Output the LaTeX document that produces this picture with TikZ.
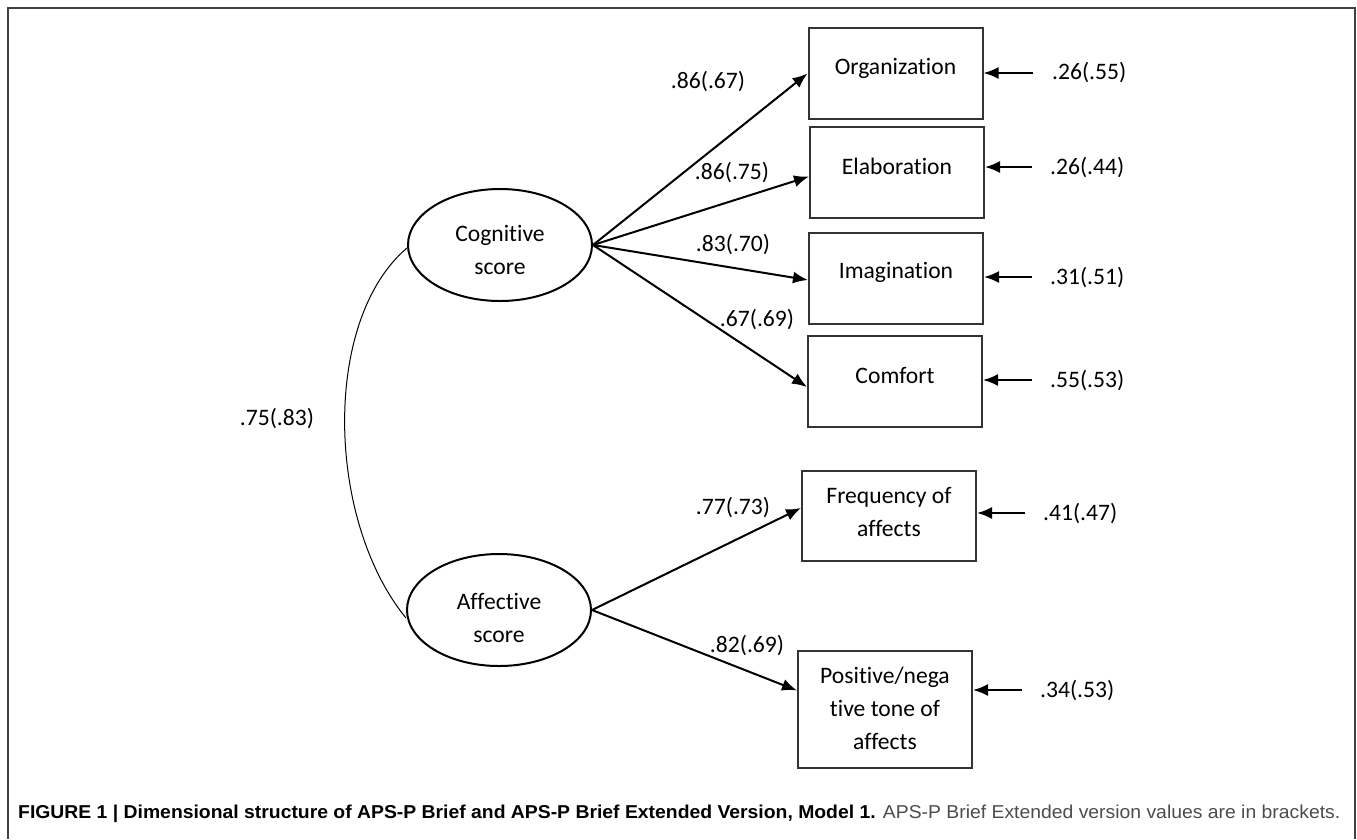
\documentclass[tikz,border=0pt]{standalone}
\usepackage{fontspec}
\setmainfont{Carlito}[Ligatures=NoCommon]
\newfontfamily\capfont{Liberation Sans}
\usetikzlibrary{arrows.meta,shapes.geometric}
\begin{document}
\begin{tikzpicture}[x=1pt,y=-1pt,
  every node/.style={font=\fontsize{23.6}{33}\selectfont, inner sep=0pt},
  latent/.style={ellipse, draw=black, line width=2pt, minimum width=184pt, minimum height=112pt},
  obs/.style={rectangle, draw=black!80, line width=2pt, minimum width=174pt, minimum height=91pt},
  txt/.style={align=center},
  load/.style={line width=2pt, -{Latex[length=15pt,width=12pt]}},
  resid/.style={line width=2pt, -{Latex[length=15pt,width=12pt]}},
  corr/.style={line width=1pt},
  framecol/.style={draw=black!75, line width=1.6pt}
]
\fill[white] (0,0) rectangle (1357,839);
\useasboundingbox (0,0) rectangle (1357,839);
\draw[framecol] (8,839) -- (8,8) -- (1355,8) -- (1355,839);

% latent variables
\node[latent] (cog) at (500,245) {};
\node[txt] (cogT) at ([yshift=-5pt]cog.center) {Cognitive\\score};
\node[latent] (aff) at (499,610) {};
\node[txt] (affT) at ([yshift=-8pt]aff.center) {Affective\\score};

% observed variables
\node[obs] (org) at (895.5,73.5) {};
\node[txt] (orgT) at ([yshift=5.5pt]org.center) {Organization};
\node[obs] (ela) at (897,172.5) {};
\node[txt] (elaT) at ([yshift=6pt]ela.center) {Elaboration};
\node[obs] (ima) at (896,278.5) {};
\node[txt] (imaT) at ([yshift=6pt]ima.center) {Imagination};
\node[obs] (com) at (895,381.5) {};
\node[txt] (comT) at ([yshift=6pt]com.center) {Comfort};
\node[obs, minimum height=90pt] (fre) at (889,516) {};
\node[txt] (freT) at ([yshift=4pt]fre.center) {Frequency of\\affects};
\node[obs, minimum height=117pt] (pos) at (885,709.5) {};
\node[txt] (posT) at ([yshift=1pt]pos.center) {Positive/nega\\tive tone of\\affects};

% loadings
\draw[load] (cog.east) -- (org.west);
\draw[load] (cog.east) -- ([yshift=-4pt]ela.west);
\draw[load] (cog.east) -- ([yshift=-1.5pt]ima.west);
\draw[load] (cog.east) -- ([yshift=-5.5pt]com.west);
\draw[load] (aff.east) -- ([yshift=8pt]fre.west);
\draw[load] (aff.east) -- ([yshift=19pt]pos.west);

\node (l1) at (708,82) {.86(.67)};
\node (l2) at (732,172) {.86(.75)};
\node (l3) at (733,244) {.83(.70)};
\node (l4) at (757,319) {.67(.69)};
\node (l5) at (733,507) {.77(.73)};
\node (l6) at (747,645) {.82(.69)};

% residuals
\coordinate (r1) at (1033,73);
\coordinate (r2) at (1032,167);
\coordinate (r3) at (1032,277);
\coordinate (r4) at (1032,380);
\coordinate (r5) at (1025,513);
\coordinate (r6) at (1022,690);
\draw[resid] (r1) -- (org.east |- r1);
\draw[resid] (r2) -- (ela.east |- r2);
\draw[resid] (r3) -- (ima.east |- r3);
\draw[resid] (r4) -- (com.east |- r4);
\draw[resid] (r5) -- (fre.east |- r5);
\draw[resid] (r6) -- (pos.east |- r6);
\node[anchor=west] (e1) at (1052,73) {.26(.55)};
\node[anchor=west] (e2) at (1050,167) {.26(.44)};
\node[anchor=west] (e3) at (1050,277) {.31(.51)};
\node[anchor=west] (e4) at (1050,380) {.55(.53)};
\node[anchor=west] (e5) at (1043,513) {.41(.47)};
\node[anchor=west] (e6) at (1040,690) {.34(.53)};

% correlation
\draw[corr] ([yshift=-3pt]cog.west) .. controls (322,320) and (326,520) .. ([yshift=-8pt]aff.west);
\node (cr) at (277,418) {.75(.83)};

% caption
\node[anchor=base west] (cap) at (18,818) {\resizebox{1322pt}{13.5pt}{\capfont\fontsize{15}{18}\selectfont\textbf{FIGURE 1 | Dimensional structure of APS-P Brief and APS-P Brief Extended Version, Model 1.} \textcolor{black!70}{APS-P Brief Extended version values are in brackets.}}};
\end{tikzpicture}
\end{document}
